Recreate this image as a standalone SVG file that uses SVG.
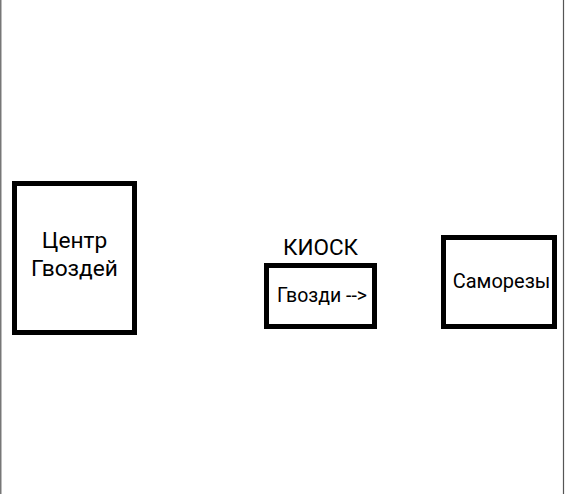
<svg xmlns="http://www.w3.org/2000/svg" width="565" height="494" viewBox="0 0 565 494">
<style>
.box{fill:#fff;stroke:#000;stroke-width:5}
.t{font-family:Roboto,"Liberation Sans",sans-serif;fill:#000;text-anchor:middle}
.edge{stroke:#555;stroke-width:1.2}
</style>
<rect width="565" height="494" fill="#fff"/>
<g id="page-border">
<line class="edge" x1="0.8" y1="0" x2="0.8" y2="494"/>
<line class="edge" x1="563.5" y1="0" x2="563.5" y2="494"/>
</g>
<g id="connectors"></g>
<g id="center">
<rect class="box" x="14.5" y="183.5" width="120" height="149"/>
<text class="t" x="74.5" y="248" font-size="22.7">Центр</text>
<text class="t" x="74.5" y="276" font-size="22.7">Гвоздей</text>
</g>
<g id="kiosk">
<text class="t" x="320.5" y="255" font-size="22.5">КИОСК</text>
<rect class="box" x="266.5" y="265.5" width="108" height="61"/>
<text class="t" x="322" y="302" font-size="19.5">Гвозди --&gt;</text>
</g>
<g id="screws">
<rect class="box" x="443.5" y="237.5" width="111" height="89"/>
<text class="t" x="501.5" y="288" font-size="20">Саморезы</text>
</g>
</svg>
